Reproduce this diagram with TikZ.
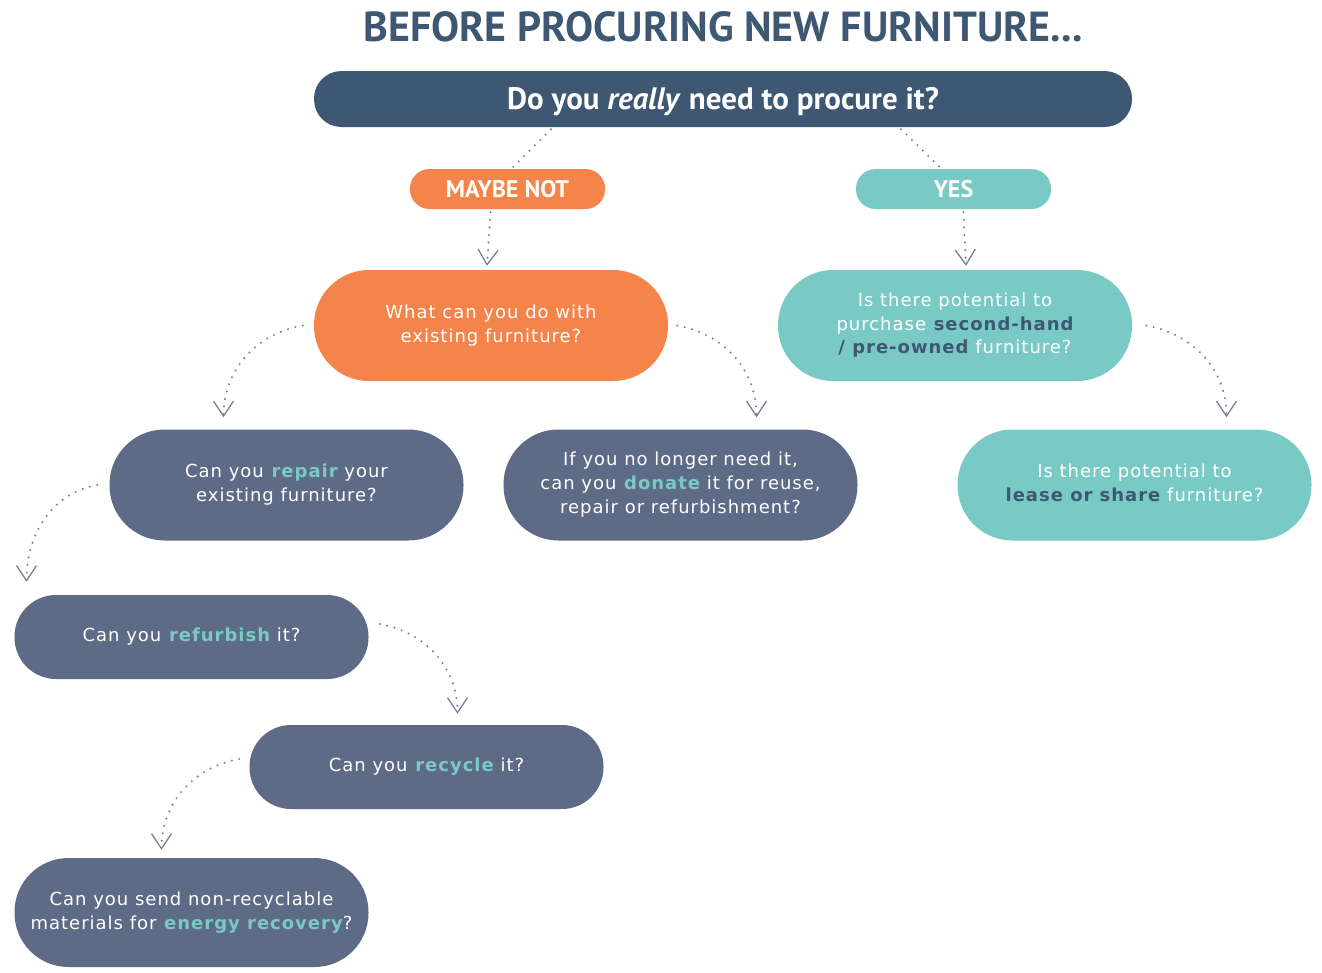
\documentclass[tikz,border=0pt]{standalone}
\usepackage{fontspec}
\setmainfont{DejaVu Sans}[LetterSpace=5.5]
\newfontfamily\headfont{PT Sans}
\usetikzlibrary{arrows.meta}
\definecolor{navy}{HTML}{3E5772}
\definecolor{orangeb}{HTML}{F5844A}
\definecolor{tealb}{HTML}{79CAC5}
\definecolor{slate}{HTML}{5E6B86}
\definecolor{dotc}{HTML}{7A809A}
\newcommand{\hl}[1]{\textbf{\color{tealb}#1}}
\newcommand{\nv}[1]{\textbf{\color{navy}#1}}
\tikzset{
  body/.style={text=white, align=center, inner sep=0pt,
    font=\fontsize{18pt}{23.5pt}\selectfont},
  bigbox/.style={body, minimum width=354pt, minimum height=111pt, rounded corners=55pt},
  midbox/.style={body, minimum width=354pt, minimum height=84pt, rounded corners=41.5pt},
  headbox/.style={text=white, inner sep=0pt, minimum width=818pt, minimum height=56pt,
    text height=24pt, text depth=3pt,
    rounded corners=27.5pt, fill=navy, font=\headfont\bfseries\fontsize{31pt}{32pt}\selectfont},
  pill/.style={text=white, inner sep=0pt, minimum width=195pt, minimum height=40pt,
    rounded corners=19.5pt, font=\headfont\bfseries\fontsize{24pt}{26pt}\selectfont},
  conn/.style={draw=dotc, line width=2.3pt, line cap=round, dash pattern=on 0pt off 7.6pt},
  arr/.style={conn, -{Straight Barb[length=15pt,width=20pt,line width=1.3pt]}},
}
\begin{document}
\begin{tikzpicture}[x=1pt,y=1pt]
\useasboundingbox (0,0) rectangle (1322,-972);
\node[text=navy, font=\headfont\bfseries\fontsize{42pt}{44pt}\selectfont, inner sep=0pt] (title) at (723,-27) {BEFORE PROCURING NEW FURNITURE...};
\node[headbox] (head) at (723,-99) {Do you \textit{really} need to procure it?};
\node[pill, fill=orangeb] (maybe) at (507.5,-189) {MAYBE NOT};
\node[pill, fill=tealb] (yes) at (953.5,-189) {YES};
\node[bigbox, fill=orangeb] (what) at (491,-325.5) {What can you do with\\existing furniture?};
\node[bigbox, fill=tealb] (purchase) at (955,-325.5) {Is there potential to\\purchase \nv{second-hand}\\\nv{/ pre-owned} furniture?};
\node[bigbox, fill=slate] (repair) at (286.5,-485) {\raisebox{3pt}{\begin{tabular}{@{}c@{}}Can you \hl{repair} your\\[0.5pt]existing furniture?\end{tabular}}};
\node[bigbox, fill=slate] (donate) at (680.5,-485) {\raisebox{2pt}{\begin{tabular}{@{}c@{}}If you no longer need it,\\[0.5pt]can you \hl{donate} it for reuse,\\[0.5pt]repair or refurbishment?\end{tabular}}};
\node[bigbox, fill=tealb] (lease) at (1134.5,-485) {\raisebox{4pt}{\begin{tabular}{@{}c@{}}Is there potential to\\[0.5pt]\nv{lease or share} furniture?\end{tabular}}};
\node[midbox, fill=slate] (refurb) at (191.5,-637) {Can you \hl{refurbish} it?};
\node[midbox, fill=slate] (recycle) at (426.5,-767) {Can you \hl{recycle} it?};
\node[bigbox, fill=slate, minimum height=109pt, rounded corners=54pt] (energy) at (191.5,-912.5) {Can you send non-recyclable\\materials for \hl{energy recovery}?};
% connectors
\draw[conn] ([xshift=-172pt,yshift=-2pt]head.south) -- ([xshift=5pt,yshift=1pt]maybe.north);
\draw[conn] ([xshift=178pt,yshift=-2pt]head.south) -- ([xshift=-13pt,yshift=1pt]yes.north);
\draw[arr] ([xshift=-17pt,yshift=-3pt]maybe.south) -- ([xshift=-4pt,yshift=4pt]what.north);
\draw[arr] ([xshift=10pt,yshift=-3pt]yes.south) -- ([xshift=11pt,yshift=4pt]purchase.north);
\draw[arr] ([xshift=-11pt]what.west) to[out=190,in=90] ([xshift=-63pt,yshift=12pt]repair.north);
\draw[arr] ([xshift=9pt]what.east) to[out=-10,in=90] ([xshift=76pt,yshift=12pt]donate.north);
\draw[arr] ([xshift=14pt]purchase.east) to[out=-10,in=90] ([xshift=92pt,yshift=12pt]lease.north);
\draw[arr] ([xshift=-12pt]repair.west) to[out=190,in=90] ([xshift=-165pt,yshift=13pt]refurb.north);
\draw[arr] ([xshift=11pt,yshift=13pt]refurb.east) to[out=-10,in=90] ([xshift=31pt,yshift=11pt]recycle.north);
\draw[arr] ([xshift=-10pt,yshift=8pt]recycle.west) to[out=190,in=90] ([xshift=-30pt,yshift=8pt]energy.north);
\end{tikzpicture}
\end{document}
